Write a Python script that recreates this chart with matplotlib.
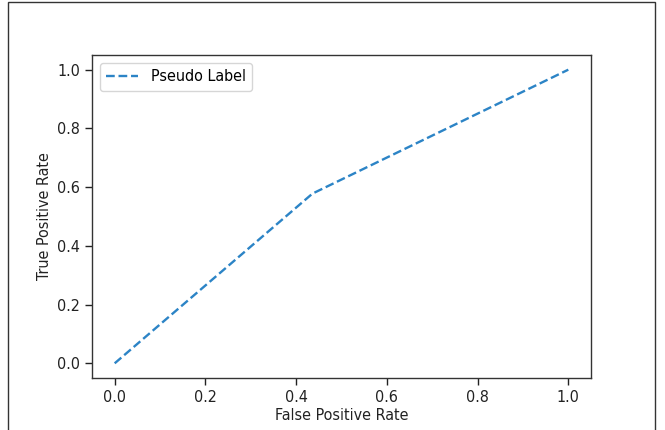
import matplotlib
matplotlib.use("Agg")
import matplotlib.pyplot as plt
from matplotlib.patches import Rectangle
from matplotlib import font_manager

# ROC curve points for the pseudo-label classifier
fpr = [0.0, 0.436, 1.0]
tpr = [0.0, 0.578, 1.0]
series_label = "Pseudo Label"
x_ticks = [0.0, 0.2, 0.4, 0.6, 0.8, 1.0]
y_ticks = [0.0, 0.2, 0.4, 0.6, 0.8, 1.0]

W, H = 665, 430
fig = plt.figure(figsize=(W / 100, H / 100), dpi=100)
plt.rcParams["font.family"] = ["DejaVu Sans"]
plt.rcParams["font.stretch"] = "condensed"
fs = 11.5
fp = font_manager.FontProperties(family="DejaVu Sans", stretch="condensed", size=fs)

# thin outer frame around the output cell
fig.patches.append(Rectangle((8 / W, -0.1), (655 - 8) / W, 1.1 - 2 / H,
                             transform=fig.transFigure, fill=False,
                             edgecolor="#333333", linewidth=1.0))

ax = fig.add_axes([92 / W, 1 - 378 / H, (591 - 92) / W, (378 - 55) / H])
ax.plot(fpr, tpr, linestyle="--", color="#2c84c6", linewidth=1.7, label=series_label)
ax.set_xlim(-0.05, 1.05)
ax.set_ylim(-0.05, 1.05)
ax.set_xticks(x_ticks)
ax.set_yticks(y_ticks)
ax.set_xticklabels([f"{v:.1f}" for v in x_ticks], fontproperties=fp)
ax.set_yticklabels([f"{v:.1f}" for v in y_ticks], fontproperties=fp)
ax.tick_params(length=5, width=1.0, pad=3.5, colors="#222222")
for s in ax.spines.values():
    s.set_linewidth(1.0)
    s.set_color("#333333")
ax.set_xlabel("False Positive Rate", fontproperties=fp, color="#222222", labelpad=2)
ax.set_ylabel("True Positive Rate", fontproperties=fp, color="#222222", labelpad=4)
ax.legend(loc="upper left", prop=fp, handlelength=2.0, borderaxespad=0.5)

fig.savefig("out.png", dpi=100)
